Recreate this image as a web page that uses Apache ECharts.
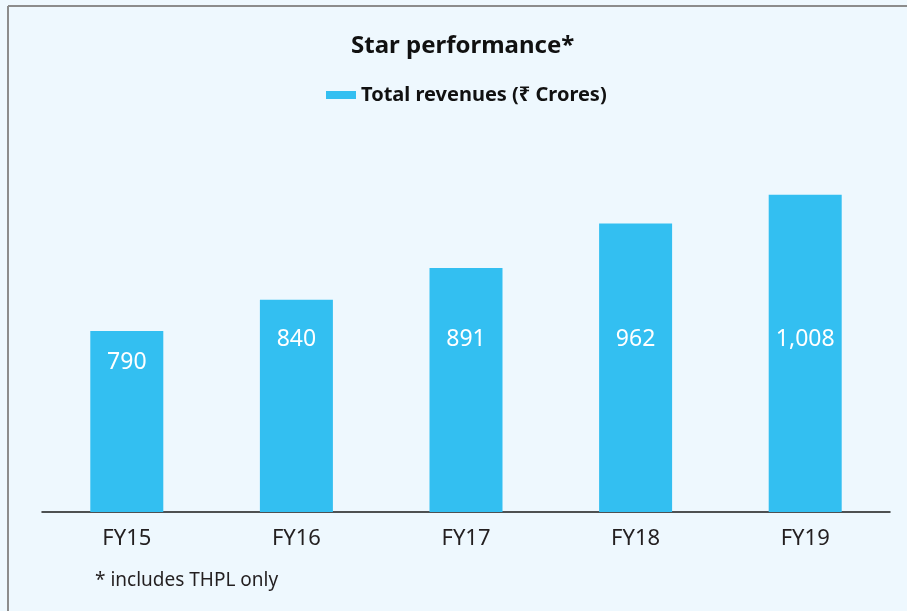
<!DOCTYPE html>
<html>
<head>
<meta charset="UTF-8">
<title>Star performance</title>
<script src="https://cdn.jsdelivr.net/npm/echarts@6/dist/echarts.min.js"></script>
<style>
  html, body { margin: 0; padding: 0; background: #eef8fe; }
  #main { width: 907px; height: 611px; }
</style>
</head>
<body>
<div id="main"></div>
<script>
var years = ['FY15', 'FY16', 'FY17', 'FY18', 'FY19'];
var revenues = [790, 840, 891, 962, 1008];

var barColor = '#33bff1';
var chart = echarts.init(document.getElementById('main'));

function fmt(v) {
    return v.toLocaleString('en-US');
}

chart.setOption({
    backgroundColor: '#eef8fe',
    animation: false,
    textStyle: { fontFamily: 'Noto Sans' },
    title: {
        text: 'Star performance*',
        left: 346,
        top: 29,
        textStyle: { fontFamily: 'Noto Sans', fontWeight: 'bold', fontSize: 24, color: '#111' }
    },
    legend: {
        left: 321,
        top: 80,
        itemWidth: 30,
        itemHeight: 8,
        itemGap: 8,
        icon: 'rect',
        textStyle: { fontFamily: 'Noto Sans', fontWeight: 'bold', fontSize: 20, color: '#111' },
        data: ['Total revenues (₹ Crores)']
    },
    grid: { left: 42, right: 17, top: 75, bottom: 99 },
    xAxis: {
        type: 'category',
        data: years,
        axisLine: { lineStyle: { color: '#1a1a1a', width: 1.5 } },
        axisTick: { show: false },
        axisLabel: { fontSize: 22, color: '#231f20', margin: 16 }
    },
    yAxis: {
        type: 'value',
        min: 500,
        max: 1200,
        show: false,
        splitLine: { show: false }
    },
    graphic: [
        { type: 'line', shape: { x1: 8, y1: 6, x2: 8, y2: 611 }, style: { stroke: '#8c8c8c', lineWidth: 2 } },
        { type: 'line', shape: { x1: 8, y1: 6, x2: 907, y2: 6 }, style: { stroke: '#8c8c8c', lineWidth: 2 } },
        { type: 'text', left: 95, top: 571, style: { text: '* includes THPL only', font: '19px "Noto Sans"', fill: '#231f20' } }
    ],
    series: [{
        name: 'Total revenues (₹ Crores)',
        type: 'bar',
        barWidth: 73,
        itemStyle: { color: barColor },
        data: revenues,
        label: {
            show: true,
            color: '#ffffff',
            fontSize: 23,
            formatter: function (p) { return fmt(p.value); }
        }
    }]
});

// put the value labels on one line, lower only where the bar is short
var items = revenues.map(function (v, i) {
    var top = chart.convertToPixel({ seriesIndex: 0 }, [i, v])[1];
    var y = Math.max(top + 31, 339);
    return {
        value: v,
        label: { position: ['50%', y - top], align: 'center', verticalAlign: 'middle' }
    };
});
chart.setOption({ series: [{ data: items }] });
</script>
</body>
</html>
